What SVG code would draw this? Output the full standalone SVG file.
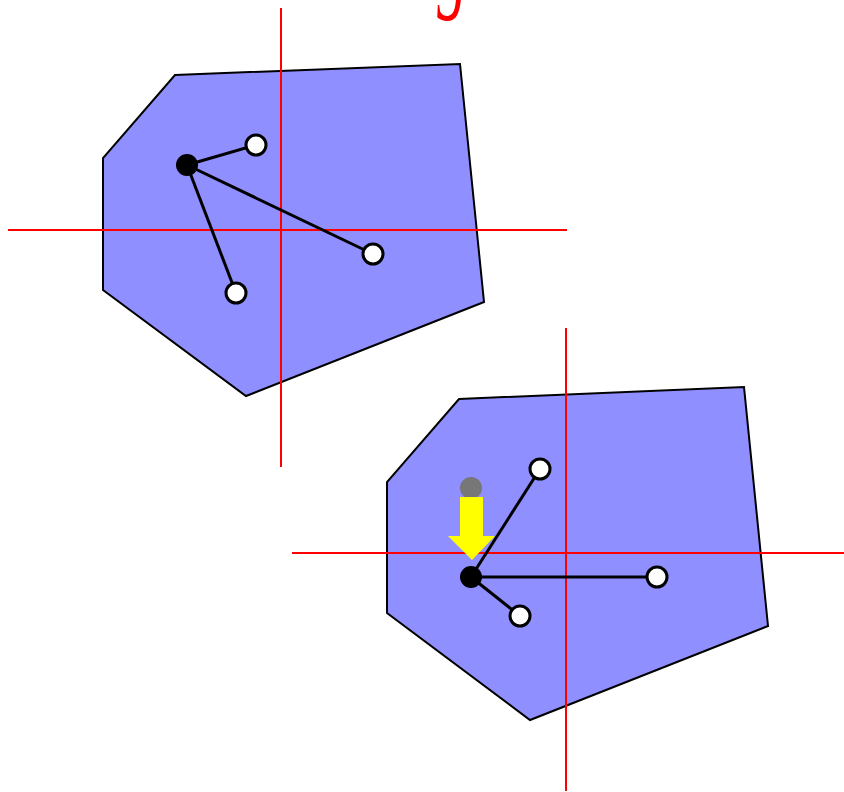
<svg xmlns="http://www.w3.org/2000/svg" width="844" height="792" viewBox="0 0 844 792">
<style>
.poly{fill:#8f8fff;stroke:#000;stroke-width:2;stroke-linejoin:miter}
.axis{stroke:#ff0000;stroke-width:2}
.edge{stroke:#000;stroke-width:3;fill:none}
.nb{fill:#fff;stroke:#000;stroke-width:3}
.ctr{fill:#000}
.title{font-family:"Liberation Serif","DejaVu Serif",serif;font-style:italic;font-size:110px;fill:#ff0000}
</style>
<text class="title" x="60" y="-2" textLength="560" lengthAdjust="spacingAndGlyphs">Mesh Smoothing in 2D</text>
<g id="top">
<polygon class="poly" points="175,75 460,64 484,302 246,396 103,290 103,158"/>
<line class="axis" x1="281" y1="8" x2="281" y2="467"/>
<line class="axis" x1="8" y1="230" x2="567" y2="230"/>
<g id="top-edges">
<line class="edge" x1="187" y1="165" x2="256" y2="145"/>
<line class="edge" x1="187" y1="165" x2="373" y2="254"/>
<line class="edge" x1="187" y1="165" x2="236" y2="293"/>
</g>
<circle id="top-n1" class="nb" cx="256" cy="145" r="10"/>
<circle id="top-n2" class="nb" cx="373" cy="254" r="10"/>
<circle id="top-n3" class="nb" cx="236" cy="293" r="10"/>
<circle id="top-v" class="ctr" cx="187" cy="165" r="11"/>
</g>
<g id="bottom">
<polygon class="poly" points="459,399 744,387 768,626 530,720 387,613 387,482"/>
<line class="axis" x1="566" y1="328" x2="566" y2="791"/>
<line class="axis" x1="292" y1="553" x2="844" y2="553"/>
<circle id="bot-old" cx="471" cy="488" r="11" fill="#777"/>
<polygon id="bot-arrow" points="460,497 483,497 483,536 495,536 472,560 448,536 460,536" fill="#ffff00"/>
<g id="bot-edges">
<line class="edge" x1="471" y1="577" x2="540" y2="469"/>
<line class="edge" x1="471" y1="577" x2="657" y2="577"/>
<line class="edge" x1="471" y1="577" x2="520" y2="616"/>
</g>
<circle id="bot-n1" class="nb" cx="540" cy="469" r="10"/>
<circle id="bot-n2" class="nb" cx="657" cy="577" r="10"/>
<circle id="bot-n3" class="nb" cx="520" cy="616" r="10"/>
<circle id="bot-v" class="ctr" cx="471" cy="577" r="11"/>
</g>
</svg>
